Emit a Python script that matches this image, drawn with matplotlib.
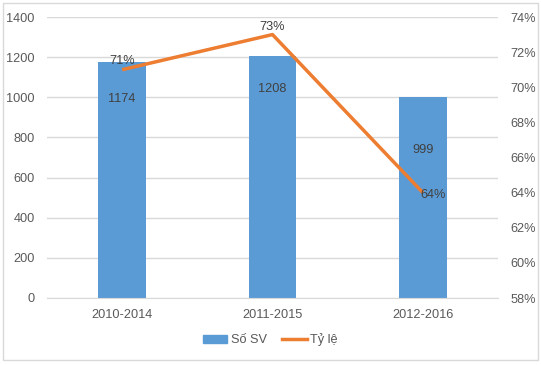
import matplotlib
matplotlib.use("Agg")
import matplotlib.pyplot as plt
from matplotlib.patches import Rectangle
from matplotlib.lines import Line2D
from matplotlib.ticker import FuncFormatter

categories = ["2010-2014", "2011-2015", "2012-2016"]
so_sv = [1174, 1208, 999]
ty_le = [0.71, 0.73, 0.64]
left_ticks = [0, 200, 400, 600, 800, 1000, 1200, 1400]
right_ticks = [0.58, 0.60, 0.62, 0.64, 0.66, 0.68, 0.70, 0.72, 0.74]

BLUE = "#5B9BD5"
ORANGE = "#ED7D31"
TXT = "#595959"
GRID = "#D9D9D9"
FS = 9.2

plt.rcParams['font.family'] = ['Liberation Sans', 'DejaVu Sans']

W, H = 541, 365
fig = plt.figure(figsize=(W / 100, H / 100), dpi=100)
fig.patch.set_facecolor("white")

# chart border
fig.add_artist(Rectangle((3 / W, 1 - 360 / H), 535 / W, 357 / H,
                         transform=fig.transFigure, fill=False,
                         edgecolor="#D9D9D9", linewidth=1))

ax = fig.add_axes([47 / W, 1 - 298 / H, 451 / W, 281 / H])
x = list(range(len(categories)))
ax.bar(x, so_sv, width=0.315, color=BLUE, zorder=2)
ax.set_xlim(-0.5, 2.5)
ax.set_ylim(0, 1400)
ax.set_yticks(left_ticks)
ax.set_xticks(x)
ax.set_xticklabels(categories)
ax.grid(axis='y', color=GRID, linewidth=1, zorder=0)
ax.set_axisbelow(True)
for s in ["top", "right", "left"]:
    ax.spines[s].set_visible(False)
ax.spines["bottom"].set_color(GRID)
ax.tick_params(axis='both', length=0, colors=TXT, labelsize=FS)
ax.tick_params(axis='y', pad=9)
ax.tick_params(axis='x', pad=8)

bar_offsets = [-37, -33, -53]
for xi, v, off in zip(x, so_sv, bar_offsets):
    ax.annotate(str(v), (xi, v), xytext=(0, off), textcoords='offset pixels',
                ha='center', va='center', fontsize=FS, color="#404040")

ax2 = ax.twinx()
ax2.plot(x, ty_le, color=ORANGE, linewidth=2.5, zorder=3, solid_capstyle='butt')
ax2.set_ylim(0.58, 0.74)
ax2.set_yticks(right_ticks)
ax2.yaxis.set_major_formatter(FuncFormatter(lambda v, p: f"{round(v * 100)}%"))
for s in ["top", "right", "left", "bottom"]:
    ax2.spines[s].set_visible(False)
ax2.tick_params(axis='y', length=0, colors=TXT, labelsize=FS, pad=9)

line_offsets = [(0, 9), (0, 8), (10, -2)]
for xi, v, (dx, dy) in zip(x, ty_le, line_offsets):
    ax2.annotate(f"{round(v * 100)}%", (xi, v), xytext=(dx, dy), textcoords='offset pixels',
                 ha='center', va='center', fontsize=FS, color="#404040", zorder=4)

handles = [Rectangle((0, 0), 1, 1, color=BLUE),
           Line2D([0], [0], color=ORANGE, linewidth=2.5)]
fig.legend(handles, ["Số SV", "Tỷ lệ"], loc='center', bbox_to_anchor=(0.5, 1 - 340 / H),
           ncol=2, frameon=False, fontsize=FS, labelcolor=TXT,
           handlelength=1.9, handleheight=0.6, columnspacing=1.2, handletextpad=0.3)

fig.savefig("out.png", dpi=100, facecolor="white")
